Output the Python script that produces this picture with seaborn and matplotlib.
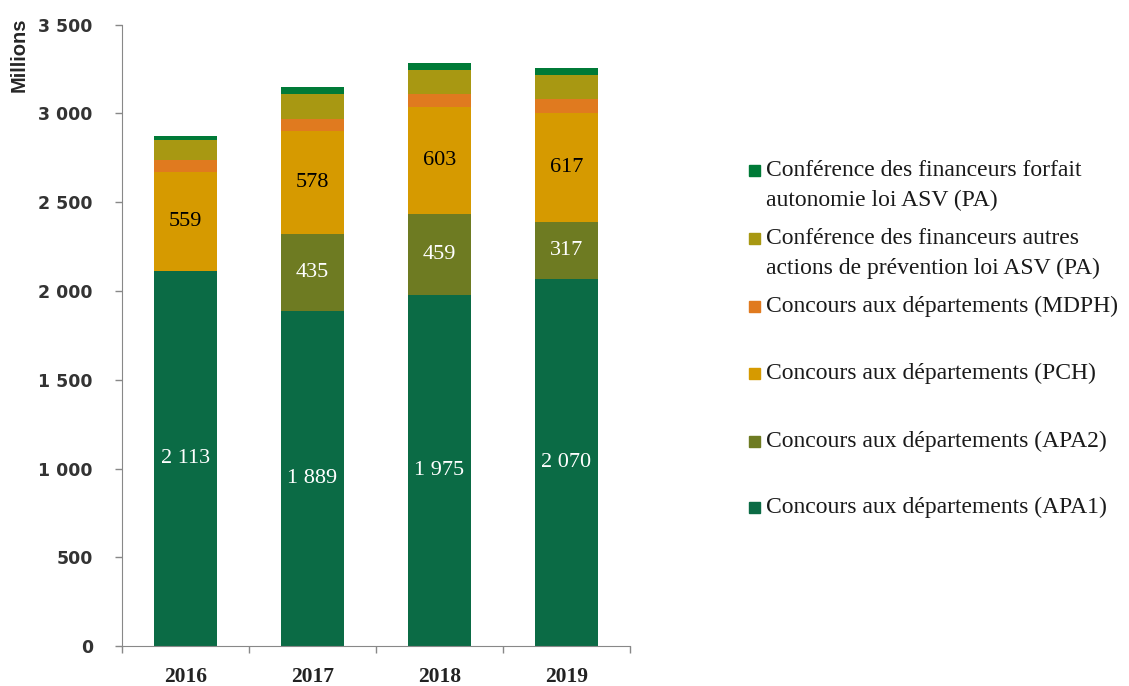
import pandas as pd
import numpy as np
import matplotlib.pyplot as plt
import seaborn as sns
from matplotlib.patches import Rectangle

# données (millions d'euros)
years = ["2016", "2017", "2018", "2019"]
apa1 = [2113, 1889, 1975, 2070]
apa2 = [0, 435, 459, 317]
pch = [559, 578, 603, 617]
mdph = [67, 68, 72, 77]
autres = [109, 139, 137, 135]
forfait = [26, 40, 38, 40]

series = [
    ("Concours aux départements (APA1)", apa1, "#0b6b45"),
    ("Concours aux départements (APA2)", apa2, "#6e7b22"),
    ("Concours aux départements (PCH)", pch, "#d69a00"),
    ("Concours aux départements (MDPH)", mdph, "#e07a1f"),
    ("Conférence des financeurs autres\nactions de prévention loi ASV (PA)", autres, "#a89812"),
    ("Conférence des financeurs forfait\nautonomie loi ASV (PA)", forfait, "#007a37"),
]

sns.set_style("white")
plt.rcParams['font.family'] = ['Liberation Serif', 'DejaVu Serif']

fig = plt.figure(figsize=(11.29, 6.86), dpi=100)
ax = fig.add_axes([0.108, 0.058, 0.45, 0.906])

# stacked bars: draw cumulative totals, top layer first
cum = np.cumsum([s[1] for s in series], axis=0)
for i in range(len(series) - 1, -1, -1):
    df = pd.DataFrame({"Année": years, "val": cum[i]})
    sns.barplot(data=df, x="Année", y="val", color=series[i][2], width=0.5,
                saturation=1, ax=ax, edgecolor="none")

def fmt(v):
    return f"{v:,}".replace(",", " ")

# value labels for main segments
for k in range(4):
    ax.text(k, apa1[k] / 2, fmt(apa1[k]), ha="center", va="center",
            color="white", fontsize=16)
    if apa2[k] > 0:
        ax.text(k, apa1[k] + apa2[k] / 2, fmt(apa2[k]), ha="center", va="center",
                color="white", fontsize=16)
    base = apa1[k] + apa2[k]
    ax.text(k, base + pch[k] / 2, fmt(pch[k]), ha="center", va="center",
            color="black", fontsize=16)

ax.set_ylim(0, 3500)
ax.set_xlim(-0.5, 3.5)
ax.set_yticks(range(0, 3501, 500))
ax.set_yticklabels([fmt(v) for v in range(0, 3501, 500)],
                   family="DejaVu Sans", fontsize=12.5, fontweight="bold", color="#333333")
for lab in ax.get_xticklabels():
    lab.set_fontweight("bold")
    lab.set_fontsize(15.5)
    lab.set_color("#222222")
ax.set_xlabel("")
ax.set_ylabel("")
ax.set_xticks([-0.5, 0.5, 1.5, 2.5, 3.5], minor=True)
ax.tick_params(axis="x", which="major", bottom=True, length=0, pad=15)
ax.tick_params(axis="x", which="minor", bottom=True, length=5, width=1,
               color="#888888", direction="out")
ax.tick_params(axis="y", left=True, length=5, width=1, color="#888888",
               direction="out", pad=16)
for side in ["top", "right"]:
    ax.spines[side].set_visible(False)
for side in ["left", "bottom"]:
    ax.spines[side].set_color("#888888")

fig.text(0.017, 0.975, "Millions", rotation=90, ha="center", va="top",
         fontsize=14.5, fontweight="bold", family=["Liberation Sans Narrow", "Liberation Sans"])

# legend (reverse order, aligned like the original)
ys = [170, 238, 306, 373, 441, 507]
W, H = 1129, 686
for (label, vals, color), y in zip(series[::-1], ys):
    fig.patches.append(Rectangle((749 / W, (H - y - 6) / H), 11 / W, 11 / H,
                                 transform=fig.transFigure, color=color))
    fig.text(766 / W, (H - y + 10) / H, label, ha="left", va="top", fontsize=17,
             color="#1a1a1a", linespacing=1.55)

fig.savefig("out.png", dpi=100)
